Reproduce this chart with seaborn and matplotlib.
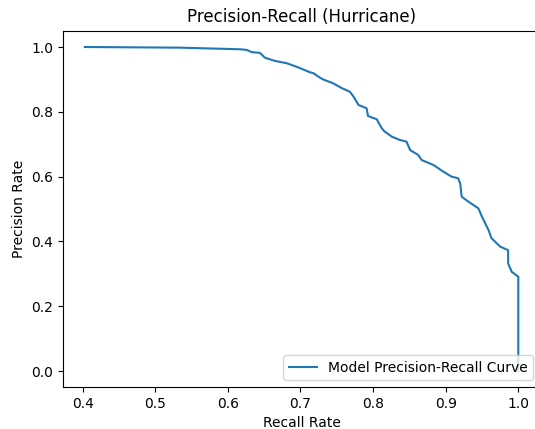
import pandas as pd
import seaborn as sns
import matplotlib.pyplot as plt

# values
recall = [0.403, 0.534, 0.566, 0.617, 0.626, 0.633, 0.644, 0.651, 0.665, 0.681,
          0.697, 0.713, 0.718, 0.725, 0.731, 0.745, 0.757, 0.768, 0.773, 0.780,
          0.791, 0.793, 0.805, 0.812, 0.816, 0.826, 0.837, 0.846, 0.851, 0.862,
          0.867, 0.883, 0.897, 0.908, 0.917, 0.920, 0.922, 0.931, 0.945, 0.950,
          0.959, 0.963, 0.975, 0.986, 0.986, 0.991, 1.000, 1.000]
precision = [1.000, 0.998, 0.996, 0.993, 0.991, 0.984, 0.982, 0.967, 0.957, 0.950,
             0.937, 0.922, 0.919, 0.908, 0.900, 0.888, 0.873, 0.862, 0.847, 0.821,
             0.811, 0.787, 0.777, 0.749, 0.739, 0.723, 0.713, 0.708, 0.682, 0.667,
             0.651, 0.636, 0.615, 0.600, 0.595, 0.579, 0.538, 0.523, 0.502, 0.476,
             0.435, 0.410, 0.384, 0.373, 0.332, 0.306, 0.291, 0.000]

df = pd.DataFrame({"recall": recall, "precision": precision})

fig = plt.figure(figsize=(5.35, 4.29), dpi=100)
# axes run slightly past the right edge, as in the cropped original
ax = fig.add_axes([0.1181, 0.0974, 0.8912, 0.8308])

sns.lineplot(
    data=df,
    x="recall",
    y="precision",
    sort=False,
    estimator=None,
    color="#1f77b4",
    linewidth=1.5,
    label="Model Precision-Recall Curve",
    ax=ax,
)
ax.legend(loc="lower right")
ax.set_title("Precision-Recall (Hurricane)")
ax.set_xlabel("Recall Rate")
ax.set_ylabel("Precision Rate")
fig.savefig("out.png", dpi=100)
